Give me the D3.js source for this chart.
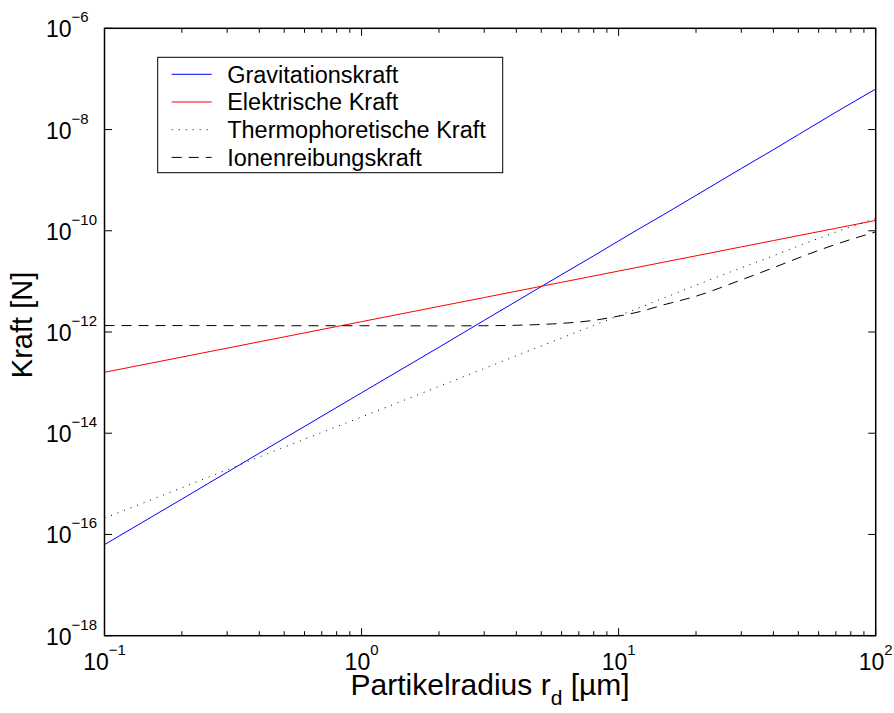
<!DOCTYPE html>
<meta charset="utf-8">
<script src="https://d3js.org/d3.v7.min.js"></script>
<style>
  body { margin: 0; background: #fff; }
  text { font-family: "Liberation Sans", Arial, Helvetica, sans-serif; fill: #000; }
</style>
<div id="chart"></div>
<script>
    // particle radius in µm
    const radius = [0.1, 0.2, 0.5, 1, 2, 3, 5, 6, 8, 10, 12, 15, 20, 30, 40, 50, 70, 100];

    // forces in N
    const gravitation = [6.3e-17, 5.0e-16, 7.9e-15, 6.3e-14, 5.0e-13, 1.7e-12, 7.9e-12, 1.36e-11, 3.2e-11, 6.3e-11, 1.09e-10, 2.1e-10, 5.0e-10, 1.7e-9, 4.0e-9, 7.9e-9, 2.2e-8, 6.3e-8];
    const elektrisch = [1.6e-13, 3.2e-13, 8.0e-13, 1.6e-12, 3.2e-12, 4.8e-12, 8.0e-12, 9.6e-12, 1.28e-11, 1.6e-11, 1.92e-11, 2.4e-11, 3.2e-11, 4.8e-11, 6.4e-11, 8.0e-11, 1.12e-10, 1.6e-10];
    const thermo = [2.1e-16, 8.4e-16, 5.3e-15, 2.1e-14, 8.4e-14, 1.9e-13, 5.3e-13, 7.6e-13, 1.35e-12, 2.1e-12, 3.0e-12, 4.7e-12, 8.4e-12, 1.85e-11, 3.2e-11, 5.0e-11, 9.4e-11, 1.75e-10];
    const ionen = [1.34e-12, 1.34e-12, 1.33e-12, 1.33e-12, 1.32e-12, 1.33e-12, 1.41e-12, 1.48e-12, 1.70e-12, 2.06e-12, 2.5e-12, 3.45e-12, 5.1e-12, 1.07e-11, 1.86e-11, 2.9e-11, 5.4e-11, 9.5e-11];

    const seriesNames = ["Gravitationskraft", "Elektrische Kraft", "Thermophoretische Kraft", "Ionenreibungskraft"];
    const xTickExps = [-1, 0, 1, 2];
    const yTickExps = [-6, -8, -10, -12, -14, -16, -18];

    // set the dimensions and margins of the graph
    const margin = {top: 28.3, right: 18.3, bottom: 77.3, left: 104.5},
        width = 894 - margin.left - margin.right,
        height = 713 - margin.top - margin.bottom;

    const svg = d3.select("#chart")
      .append("svg")
        .attr("width", 894)
        .attr("height", 713);

    const g = svg.append("g")
        .attr("transform", `translate(${margin.left}, ${margin.top})`);

    const x = d3.scaleLog().domain([0.1, 100]).range([0, width]);
    const y = d3.scaleLog().domain([1e-18, 1e-6]).range([height, 0]);

    // minor ticks on the x axis (2..9 in each decade)
    const xMinor = [];
    [0.1, 1, 10].forEach(d => { for (let k = 2; k <= 9; k++) xMinor.push(d * k); });

    const series = [
        {name: seriesNames[0], values: gravitation, color: "#0000ff", dash: null},
        {name: seriesNames[1], values: elektrisch, color: "#ff0000", dash: null},
        {name: seriesNames[2], values: thermo, color: "#000", dash: "1,6"},
        {name: seriesNames[3], values: ionen, color: "#000", dash: "10,7"}
    ];

    const line = d3.line()
        .x(d => x(d[0]))
        .y(d => y(d[1]))
        .curve(d3.curveMonotoneX);

    g.append("g")
      .selectAll("path")
      .data(series)
      .join("path")
        .attr("fill", "none")
        .attr("stroke", d => d.color)
        .attr("stroke-width", 1)
        .attr("stroke-dasharray", d => d.dash)
        .attr("d", d => line(radius.map((r, i) => [r, d.values[i]])));

    // ticks, drawn inside the box on all four sides
    const ticks = g.append("g").attr("stroke", "#000").attr("stroke-width", 1);
    xTickExps.forEach(e => {
        const px = x(Math.pow(10, e));
        ticks.append("line").attr("x1", px).attr("x2", px).attr("y1", height).attr("y2", height - 7.5);
        ticks.append("line").attr("x1", px).attr("x2", px).attr("y1", 0).attr("y2", 7.5);
    });
    xMinor.forEach(v => {
        const px = x(v);
        ticks.append("line").attr("x1", px).attr("x2", px).attr("y1", height).attr("y2", height - 4.5);
        ticks.append("line").attr("x1", px).attr("x2", px).attr("y1", 0).attr("y2", 4.5);
    });
    yTickExps.forEach(e => {
        const py = y(Math.pow(10, e));
        ticks.append("line").attr("x1", 0).attr("x2", 7.5).attr("y1", py).attr("y2", py);
        ticks.append("line").attr("x1", width).attr("x2", width - 7.5).attr("y1", py).attr("y2", py);
    });

    // axis box
    g.append("rect")
        .attr("width", width)
        .attr("height", height)
        .attr("fill", "none")
        .attr("stroke", "#000")
        .attr("stroke-width", 1.5);

    // tick labels
    const xLab = g.append("g").selectAll("text")
      .data(xTickExps)
      .join("text")
        .attr("x", d => x(Math.pow(10, d)))
        .attr("y", height + 34)
        .attr("text-anchor", "middle")
        .style("font-size", "23px");
    xLab.append("tspan").text("10");
    xLab.append("tspan").attr("dy", -15).style("font-size", "15px").text(d => String(d).replace("-", "\u2212"));

    const yLab = g.append("g").selectAll("text")
      .data(yTickExps)
      .join("text")
        .attr("x", 46 - margin.left)
        .attr("y", d => y(Math.pow(10, d)) + 9)
        .attr("text-anchor", "start")
        .style("font-size", "23px");
    yLab.append("tspan").text("10");
    yLab.append("tspan").attr("dy", -15).style("font-size", "15px").text(d => String(d).replace("-", "\u2212"));

    // axis titles
    const xTitle = svg.append("text")
        .attr("x", margin.left + width / 2)
        .attr("y", 695)
        .attr("text-anchor", "middle")
        .style("font-size", "30px");
    xTitle.append("tspan").text("Partikelradius r");
    xTitle.append("tspan").attr("dy", 10).style("font-size", "21px").text("d");
    xTitle.append("tspan").attr("dy", -10).text(" [µm]");

    svg.append("text")
        .attr("transform", "translate(32, 325) rotate(-90)")
        .attr("text-anchor", "middle")
        .style("font-size", "29px")
        .text("Kraft [N]");

    // legend
    const legend = svg.append("g").attr("transform", "translate(157.7, 57.3)");
    legend.append("rect")
        .attr("width", 345)
        .attr("height", 115.4)
        .attr("fill", "#fff")
        .attr("stroke", "#000")
        .attr("stroke-width", 1);
    const item = legend.selectAll("g.item")
      .data(series)
      .join("g")
        .attr("class", "item")
        .attr("transform", (d, i) => `translate(0, ${17 + i * 27.7})`);
    item.append("line")
        .attr("x1", 14).attr("x2", 54)
        .attr("stroke", d => d.color)
        .attr("stroke-width", 1)
        .attr("stroke-dasharray", d => d.dash);
    item.append("text")
        .attr("x", 69.5)
        .attr("y", 8.3)
        .style("font-size", "23.5px")
        .text(d => d.name);
</script>
